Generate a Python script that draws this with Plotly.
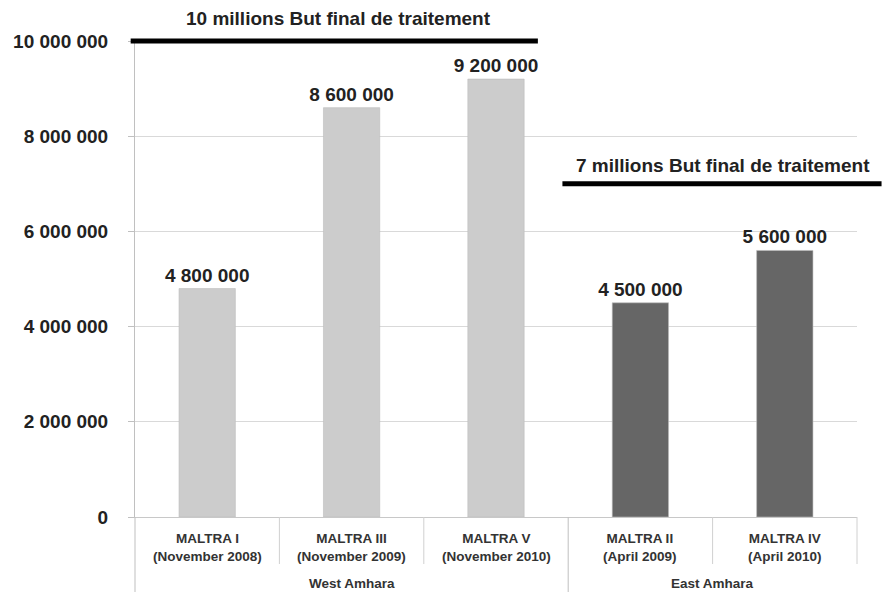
import plotly.graph_objects as go

# ---- data ----
campaigns = ["MALTRA I", "MALTRA III", "MALTRA V", "MALTRA II", "MALTRA IV"]
dates = ["(November 2008)", "(November 2009)", "(November 2010)", "(April 2009)", "(April 2010)"]
regions = ["West Amhara", "West Amhara", "West Amhara", "East Amhara", "East Amhara"]
treated = [4800000, 8600000, 9200000, 4500000, 5600000]
value_labels = ["4 800 000", "8 600 000", "9 200 000", "4 500 000", "5 600 000"]
bar_colors = ["#cccccc", "#cccccc", "#cccccc", "#666666", "#666666"]
y_ticks = [0, 2000000, 4000000, 6000000, 8000000, 10000000]
y_tick_labels = ["0", "2 000 000", "4 000 000", "6 000 000", "8 000 000", "10 000 000"]
goal_values = [10000000, 7000000]
goal_texts = ["10 millions But final de traitement", "7 millions But final de traitement"]
goal_x_spans = [(-0.53, 2.29), (2.46, 4.67)]   # in category units
goal_text_x = [0.906, 3.57]
goal_text_shift = [10, 6]

Y_MAX = 10000000
N = len(campaigns)
xs = list(range(N))
FONT = "Liberation Sans, Arial, sans-serif"


def to_paper(xv):
    return (xv + 0.5) / N


fig = go.Figure()
fig.add_trace(go.Bar(
    x=xs, y=treated, width=0.39,
    marker=dict(color=bar_colors, line=dict(color="#bdbdbd", width=0.6)),
    text=value_labels, textposition="outside", cliponaxis=False,
    constraintext="none",
    textfont=dict(family=FONT, size=19, color="#222222", weight="bold"),
    hoverinfo="skip",
))

shapes = []
annotations = []

# goal lines and texts
for g, txt, (a, b), tx, sh in zip(goal_values, goal_texts, goal_x_spans, goal_text_x, goal_text_shift):
    shapes.append(dict(type="line", xref="paper", yref="paper",
                       x0=to_paper(a), x1=to_paper(b), y0=g / Y_MAX, y1=g / Y_MAX,
                       line=dict(color="#000000", width=5)))
    annotations.append(dict(x=tx, y=g, xref="x", yref="y", text=txt, showarrow=False,
                            yanchor="bottom", yshift=sh,
                            font=dict(family=FONT, size=19, color="#222222", weight="bold")))

# category labels
for i in xs:
    annotations.append(dict(x=i, y=0, xref="x", yref="paper", yanchor="top", yshift=-12,
                            text="<b>%s</b><br><b>%s</b>" % (campaigns[i], dates[i]),
                            showarrow=False,
                            font=dict(family=FONT, size=13.5, color="#333333")))

# group labels and separators
row_h = 47 / 476
full_h = 75 / 476
groups = []
for i, r in enumerate(regions):
    if i == 0 or r != regions[i - 1]:
        groups.append([r, i, i])
    else:
        groups[-1][2] = i
for name, s, e in groups:
    annotations.append(dict(x=(s + e) / 2, y=0, xref="x", yref="paper", yanchor="top",
                            yshift=-57, text="<b>%s</b>" % name, showarrow=False,
                            font=dict(family=FONT, size=13.5, color="#333333")))
    shapes.append(dict(type="line", xref="paper", yref="paper",
                       x0=to_paper(s - 0.5), x1=to_paper(s - 0.5), y0=0, y1=-full_h,
                       line=dict(color="#bfbfbf", width=1)))
for i in xs:
    if any(i == s for _, s, _ in groups):
        continue
    shapes.append(dict(type="line", xref="paper", yref="paper",
                       x0=to_paper(i - 0.5), x1=to_paper(i - 0.5), y0=0, y1=-row_h,
                       line=dict(color="#d0d0d0", width=1)))
shapes.append(dict(type="line", xref="paper", yref="paper",
                   x0=1, x1=1, y0=0, y1=-row_h,
                   line=dict(color="#d0d0d0", width=1)))

fig.update_layout(
    width=887, height=592,
    margin=dict(l=135, r=30, t=41, b=75),
    paper_bgcolor="white", plot_bgcolor="white",
    showlegend=False,
    shapes=shapes, annotations=annotations,
    xaxis=dict(range=[-0.5, N - 0.5], showticklabels=False, showgrid=False,
               zeroline=False, showline=True, linecolor="#c8c8c8", linewidth=1,
               ticks=""),
    yaxis=dict(range=[0, Y_MAX], tickvals=y_ticks, ticktext=y_tick_labels,
               showgrid=True, gridcolor="#d9d9d9", gridwidth=1,
               zeroline=False, showline=True, linecolor="#c0c0c0", linewidth=1,
               ticks="outside", ticklen=6, tickcolor="#c0c0c0",
               ticklabelstandoff=16,
               tickfont=dict(family=FONT, size=19, color="#222222", weight="bold")),
)

fig.write_html("out.html")
